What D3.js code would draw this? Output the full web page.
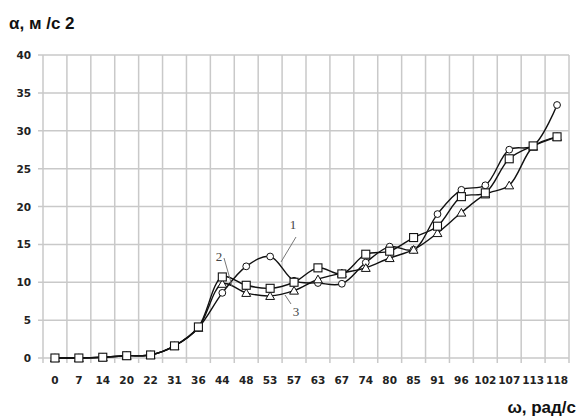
<!DOCTYPE html>
<html>
<head>
<meta charset="utf-8">
<script src="https://cdn.jsdelivr.net/npm/d3@7"></script>
<style>
  body { margin: 0; background: #fff; }
  svg text { font-family: "DejaVu Sans", Verdana, sans-serif; }
</style>
</head>
<body>
<svg id="chart" width="578" height="419"></svg>
<script>
// omega values, rad/s (category axis)
var omega = [0, 7, 14, 20, 22, 31, 36, 44, 48, 53, 57, 63, 67, 74, 80, 85, 91, 96, 102, 107, 113, 118];

// series 1 - circles, 2 - squares, 3 - triangles
var series1 = [0, 0, 0.1, 0.3, 0.4, 1.6, 4.0, 8.6, 12.1, 13.4, 10.2, 9.9, 9.8, 12.6, 14.7, 14.3, 19.0, 22.2, 22.8, 27.5, 28.0, 33.4];
var series2 = [0, 0, 0.1, 0.3, 0.4, 1.6, 4.1, 10.7, 9.6, 9.2, 10.0, 11.9, 11.1, 13.7, 14.1, 15.9, 17.4, 21.3, 21.8, 26.3, 28.0, 29.2];
var series3 = [0, 0, 0.1, 0.3, 0.4, 1.6, 4.0, 9.8, 8.6, 8.2, 8.9, 10.4, 11.2, 11.9, 13.2, 14.3, 16.5, 19.2, 21.6, 22.8, 27.9, 29.2];

var yTicks = [0, 5, 10, 15, 20, 25, 30, 35, 40];

(function() {
  var svg = d3.select('#chart');
  var plotLeft = 43, plotRight = 569, plotTop = 55, plotBottom = 358;

  var x = d3.scaleBand().domain(omega).range([plotLeft, plotRight]);
  var y = d3.scaleLinear().domain([0, 40]).range([plotBottom, plotTop]);

  var gridColor = '#c9c9c9';

  // horizontal grid
  svg.append('g').selectAll('line').data(yTicks).enter().append('line')
    .attr('x1', plotLeft - 5).attr('x2', plotRight)
    .attr('y1', function(d) { return y(d); }).attr('y2', function(d) { return y(d); })
    .attr('stroke', gridColor).attr('stroke-width', 1.5);

  // vertical grid (band edges)
  var edges = omega.map(function(d) { return x(d); }).concat([plotRight]);
  svg.append('g').selectAll('line').data(edges).enter().append('line')
    .attr('x1', function(d) { return d; }).attr('x2', function(d) { return d; })
    .attr('y1', plotTop).attr('y2', plotBottom + 5)
    .attr('stroke', gridColor).attr('stroke-width', 1.5);

  // y tick labels
  svg.append('g').selectAll('text').data(yTicks).enter().append('text')
    .attr('x', 31).attr('y', function(d) { return y(d) + 4; })
    .attr('text-anchor', 'end')
    .attr('font-size', 10.5).attr('font-weight', 'bold').attr('fill', '#222')
    .text(function(d) { return d; });

  // x tick labels
  svg.append('g').selectAll('text').data(omega).enter().append('text')
    .attr('x', function(d) { return x(d) + x.bandwidth() / 2; }).attr('y', 384)
    .attr('text-anchor', 'middle')
    .attr('font-size', 10.5).attr('font-weight', 'bold').attr('fill', '#222')
    .text(function(d) { return d; });

  // axis titles
  svg.append('text').attr('x', 9).attr('y', 29)
    .style('font-family', '"Liberation Sans", Arial, sans-serif')
    .attr('font-size', 17).attr('font-weight', 'bold').attr('fill', '#111')
    .text('α, м /с 2');
  svg.append('text').attr('x', 576).attr('y', 413).attr('text-anchor', 'end')
    .style('font-family', '"Liberation Sans", Arial, sans-serif')
    .attr('font-size', 17).attr('font-weight', 'bold').attr('fill', '#111')
    .text('ω, рад/с');

  var cx = function(d, i) { return x(omega[i]) + x.bandwidth() / 2; };
  var line = d3.line()
    .x(function(d, i) { return cx(d, i); })
    .y(function(d) { return y(d); })
    .curve(d3.curveCatmullRom.alpha(0.5));

  [series1, series2, series3].forEach(function(s) {
    svg.append('path').datum(s)
      .attr('d', line)
      .attr('fill', 'none').attr('stroke', '#111').attr('stroke-width', 1.4);
  });

  // markers
  svg.append('g').selectAll('circle').data(series1).enter().append('circle')
    .attr('cx', cx).attr('cy', function(d) { return y(d); }).attr('r', 3.4)
    .attr('fill', '#fff').attr('stroke', '#111').attr('stroke-width', 1);

  svg.append('g').selectAll('path').data(series3).enter().append('path')
    .attr('d', d3.symbol().type(d3.symbolTriangle).size(34))
    .attr('transform', function(d, i) { return 'translate(' + cx(d, i) + ',' + (y(d) + 1) + ')'; })
    .attr('fill', '#fff').attr('stroke', '#111').attr('stroke-width', 1);

  svg.append('g').selectAll('rect').data(series2).enter().append('rect')
    .attr('x', function(d, i) { return cx(d, i) - 4; }).attr('y', function(d) { return y(d) - 4; })
    .attr('width', 8).attr('height', 8)
    .attr('fill', '#fff').attr('stroke', '#111').attr('stroke-width', 1.1);

  // series labels with leader lines
  var labels = [
    { t: '1', tx: 293, ty: 229, x1: 296, y1: 237, x2: 281, y2: 262 },
    { t: '2', tx: 219, ty: 261, x1: 224, y1: 258, x2: 232, y2: 286 },
    { t: '3', tx: 296, ty: 316, x1: 285, y1: 295, x2: 291, y2: 304 }
  ];
  labels.forEach(function(l) {
    svg.append('line').attr('x1', l.x1).attr('y1', l.y1).attr('x2', l.x2).attr('y2', l.y2)
      .attr('stroke', '#777').attr('stroke-width', 1);
    svg.append('text').attr('x', l.tx).attr('y', l.ty).attr('text-anchor', 'middle')
      .style('font-family', '"Liberation Serif", "Times New Roman", serif')
      .attr('font-size', 13).attr('fill', '#444').text(l.t);
  });
})();
</script>
</body>
</html>
